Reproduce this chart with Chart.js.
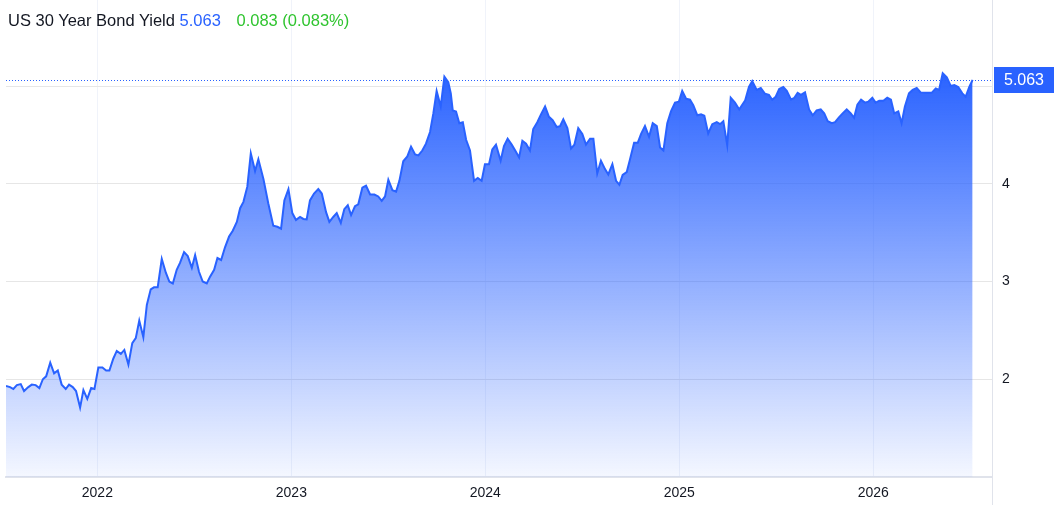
<!DOCTYPE html>
<html>
<head>
<meta charset="utf-8">
<title>US 30 Year Bond Yield</title>
<script src="https://cdn.jsdelivr.net/npm/chart.js@4.4.0/dist/chart.umd.min.js"></script>
<style>
  html, body { margin: 0; padding: 0; background: #fff; }
  #wrap { position: relative; width: 1054px; height: 505px; }
  #title {
    position: absolute; left: 8px; top: 11px;
    font: 16.5px "Liberation Sans", Arial, sans-serif; line-height: 18px;
    color: #131722; white-space: nowrap;
  }
  #title .last { color: #2962ff; }
  #title .chg { color: #2fc42f; margin-left: 11px; }
</style>
</head>
<body>
<div id="wrap">
  <canvas id="chart" width="1054" height="505"></canvas>
  <div id="title">US 30 Year Bond Yield <span class="last">5.063</span> <span class="chg">0.083 (0.083%)</span></div>
</div>
<script>
// weekly-ish points (x = decimal year)
const dates = [
  2021.529, 2021.550, 2021.567, 2021.585, 2021.605, 2021.622, 2021.644, 2021.662, 2021.682, 2021.701,
  2021.719, 2021.736, 2021.757, 2021.777, 2021.796, 2021.816, 2021.837, 2021.854, 2021.873, 2021.890,
  2021.911, 2021.928, 2021.948, 2021.968, 2021.985, 2022.005, 2022.026, 2022.045, 2022.062, 2022.082,
  2022.100, 2022.121, 2022.139, 2022.160, 2022.180, 2022.198, 2022.216, 2022.237, 2022.255, 2022.275,
  2022.292, 2022.311, 2022.332, 2022.353, 2022.371, 2022.389, 2022.409, 2022.426, 2022.447, 2022.466,
  2022.487, 2022.504, 2022.524, 2022.543, 2022.564, 2022.581, 2022.602, 2022.619, 2022.638, 2022.658,
  2022.679, 2022.698, 2022.719, 2022.736, 2022.753, 2022.773, 2022.791, 2022.813, 2022.830, 2022.856,
  2022.881, 2022.907, 2022.928, 2022.947, 2022.964, 2022.985, 2023.005, 2023.024, 2023.045, 2023.062,
  2023.079, 2023.096, 2023.117, 2023.139, 2023.157, 2023.179, 2023.196, 2023.216, 2023.234, 2023.255,
  2023.273, 2023.291, 2023.308, 2023.328, 2023.345, 2023.366, 2023.385, 2023.406, 2023.428, 2023.448,
  2023.466, 2023.483, 2023.500, 2023.521, 2023.540, 2023.557, 2023.577, 2023.598, 2023.617, 2023.638,
  2023.655, 2023.675, 2023.694, 2023.715, 2023.732, 2023.749, 2023.770, 2023.789, 2023.809, 2023.822,
  2023.832, 2023.849, 2023.866, 2023.884, 2023.901, 2023.921, 2023.942, 2023.961, 2023.981, 2023.998,
  2024.019, 2024.036, 2024.055, 2024.079, 2024.096, 2024.115, 2024.136, 2024.157, 2024.174, 2024.191,
  2024.210, 2024.230, 2024.247, 2024.268, 2024.287, 2024.308, 2024.328, 2024.347, 2024.368, 2024.385,
  2024.402, 2024.423, 2024.442, 2024.459, 2024.479, 2024.500, 2024.519, 2024.540, 2024.557, 2024.577,
  2024.596, 2024.617, 2024.634, 2024.655, 2024.674, 2024.691, 2024.708, 2024.729, 2024.746, 2024.767,
  2024.786, 2024.803, 2024.823, 2024.844, 2024.863, 2024.884, 2024.901, 2024.918, 2024.938, 2024.957,
  2024.978, 2024.998, 2025.015, 2025.035, 2025.055, 2025.072, 2025.093, 2025.112, 2025.129, 2025.149,
  2025.170, 2025.193, 2025.210, 2025.227, 2025.247, 2025.265, 2025.287, 2025.309, 2025.322, 2025.339,
  2025.359, 2025.376, 2025.399, 2025.420, 2025.442, 2025.462, 2025.479, 2025.497, 2025.515, 2025.536,
  2025.554, 2025.576, 2025.593, 2025.610, 2025.627, 2025.648, 2025.669, 2025.688, 2025.708, 2025.729,
  2025.747, 2025.765, 2025.786, 2025.803, 2025.823, 2025.842, 2025.863, 2025.884, 2025.901, 2025.918,
  2025.937, 2025.957, 2025.974, 2025.995, 2026.012, 2026.031, 2026.052, 2026.072, 2026.091, 2026.108,
  2026.129, 2026.146, 2026.163, 2026.184, 2026.203, 2026.224, 2026.244, 2026.263, 2026.284, 2026.301,
  2026.322, 2026.339, 2026.358, 2026.379, 2026.399, 2026.418, 2026.438, 2026.459, 2026.476, 2026.495,
  2026.512
];
const yields = [
  1.93, 1.92, 1.90, 1.94, 1.95, 1.88, 1.92, 1.945, 1.94, 1.91,
  2.00, 2.03, 2.17, 2.06, 2.09, 1.945, 1.90, 1.945, 1.92, 1.88,
  1.71, 1.89, 1.80, 1.91, 1.90, 2.12, 2.12, 2.09, 2.09, 2.21,
  2.29, 2.26, 2.30, 2.15, 2.37, 2.42, 2.60, 2.43, 2.76, 2.92,
  2.94, 2.94, 3.23, 3.09, 3.00, 2.98, 3.12, 3.19, 3.30, 3.26,
  3.14, 3.27, 3.10, 3.00, 2.98, 3.05, 3.12, 3.24, 3.22, 3.35,
  3.46, 3.52, 3.61, 3.75, 3.815, 3.97, 4.31, 4.13, 4.25, 4.05,
  3.80, 3.57, 3.56, 3.54, 3.83, 3.945, 3.70, 3.63, 3.66, 3.64,
  3.635, 3.83, 3.90, 3.945, 3.90, 3.71, 3.61, 3.66, 3.70, 3.60,
  3.74, 3.78, 3.68, 3.77, 3.79, 3.96, 3.98, 3.89, 3.89, 3.87,
  3.825, 3.87, 4.04, 3.935, 3.92, 4.03, 4.23, 4.28, 4.38, 4.30,
  4.29, 4.34, 4.41, 4.53, 4.72, 4.95, 4.79, 5.095, 5.04, 4.925,
  4.75, 4.74, 4.62, 4.63, 4.45, 4.34, 4.03, 4.06, 4.03, 4.20,
  4.20, 4.35, 4.40, 4.235, 4.385, 4.46, 4.40, 4.33, 4.27, 4.44,
  4.41, 4.34, 4.56, 4.63, 4.71, 4.79, 4.685, 4.65, 4.58, 4.59,
  4.66, 4.57, 4.36, 4.40, 4.57, 4.51, 4.40, 4.46, 4.46, 4.105,
  4.235, 4.15, 4.095, 4.20, 4.03, 3.99, 4.09, 4.12, 4.25, 4.42,
  4.42, 4.51, 4.59, 4.48, 4.62, 4.59, 4.37, 4.34, 4.62, 4.74,
  4.83, 4.84, 4.95, 4.87, 4.86, 4.805, 4.70, 4.71, 4.695, 4.515,
  4.61, 4.63, 4.61, 4.64, 4.395, 4.88, 4.83, 4.76, 4.80, 4.85,
  4.99, 5.05, 4.96, 4.98, 4.92, 4.91, 4.86, 4.89, 4.97, 4.99,
  4.95, 4.86, 4.88, 4.93, 4.91, 4.935, 4.76, 4.70, 4.75, 4.76,
  4.72, 4.64, 4.62, 4.63, 4.68, 4.72, 4.76, 4.72, 4.675, 4.81,
  4.86, 4.83, 4.84, 4.88, 4.83, 4.85, 4.85, 4.88, 4.86, 4.72,
  4.74, 4.62, 4.79, 4.925, 4.96, 4.98, 4.935, 4.93, 4.93, 4.93,
  4.976, 4.96, 5.13, 5.09, 5.00, 5.01, 4.99, 4.925, 4.89, 4.99,
  5.063
];
const yearTicks = [2022, 2023, 2024, 2025, 2026];
const yieldTicks = [2, 3, 4, 5];

const FONT = '"Liberation Sans", Arial, sans-serif';
const BLUE = '#2962ff';
const lastValue = yields[yields.length - 1];

// last price box + dotted level line
const lastValuePlugin = {
    id: 'lastValue',
    beforeDatasetsDraw(chart) {
        const { ctx, chartArea, scales } = chart;
        const y = Math.round(scales.y.getPixelForValue(lastValue)) + 0.5;
        ctx.save();
        ctx.strokeStyle = BLUE;
        ctx.lineWidth = 1;
        ctx.setLineDash([1, 2]);
        ctx.beginPath();
        ctx.moveTo(chartArea.left, y);
        ctx.lineTo(chartArea.right, y);
        ctx.stroke();
        ctx.restore();
    },
    afterDraw(chart) {
        const { ctx, chartArea, scales } = chart;
        const y = scales.y.getPixelForValue(lastValue);
        ctx.save();
        // separator between plot and price scale
        ctx.strokeStyle = '#e0e3eb';
        ctx.lineWidth = 1;
        ctx.beginPath();
        ctx.moveTo(chartArea.right + 0.5, 0);
        ctx.lineTo(chartArea.right + 0.5, chart.height);
        ctx.stroke();
        ctx.fillStyle = BLUE;
        ctx.fillRect(chartArea.right + 2, Math.round(y - 13), chart.width - chartArea.right - 2, 26);
        ctx.fillStyle = '#fff';
        ctx.font = '16px ' + FONT;
        ctx.textAlign = 'center';
        ctx.textBaseline = 'middle';
        ctx.fillText(lastValue.toFixed(3), (chartArea.right + 2 + chart.width) / 2, y + 1);
        ctx.restore();
    }
};

const ctx = document.getElementById('chart').getContext('2d');
new Chart(ctx, {
    type: 'line',
    data: {
        datasets: [{
            data: dates.map((d, i) => ({ x: d, y: yields[i] })),
            borderColor: BLUE,
            borderWidth: 2,
            pointRadius: 0,
            tension: 0,
            fill: 'start',
            backgroundColor: c => {
                const area = c.chart.chartArea;
                if (!area) return 'rgba(41,98,255,0.4)';
                const g = c.chart.ctx.createLinearGradient(0, 70, 0, area.bottom);
                g.addColorStop(0, 'rgba(41,98,255,1)');
                g.addColorStop(1, 'rgba(41,98,255,0.05)');
                return g;
            }
        }]
    },
    options: {
        responsive: false,
        animation: false,
        layout: { padding: { left: 6, top: 0, right: 0, bottom: 0 } },
        plugins: { legend: { display: false }, tooltip: { enabled: false } },
        scales: {
            x: {
                type: 'linear',
                min: 2021.529,
                max: 2026.612,
                afterBuildTicks: s => { s.ticks = yearTicks.map(v => ({ value: v })); },
                afterFit: s => { s.height = 28; s.paddingLeft = 0; s.paddingRight = 0; },
                ticks: {
                    callback: v => String(v),
                    font: { size: 14, family: FONT },
                    color: '#131722',
                    padding: 8,
                    maxRotation: 0,
                    autoSkip: false
                },
                grid: { color: '#f0f3fa', drawTicks: false },
                border: { color: '#e0e3eb', width: 2 }
            },
            y: {
                position: 'right',
                min: 1,
                max: 5.88,
                afterBuildTicks: s => { s.ticks = yieldTicks.map(v => ({ value: v })); },
                afterFit: s => { s.width = 62; s.paddingTop = 0; s.paddingBottom = 0; },
                ticks: {
                    callback: v => String(v),
                    font: { size: 14, family: FONT },
                    color: '#131722',
                    padding: 10
                },
                grid: { color: '#e6e6e6', drawTicks: false },
                border: { display: false }
            }
        }
    },
    plugins: [lastValuePlugin]
});
</script>
</body>
</html>
